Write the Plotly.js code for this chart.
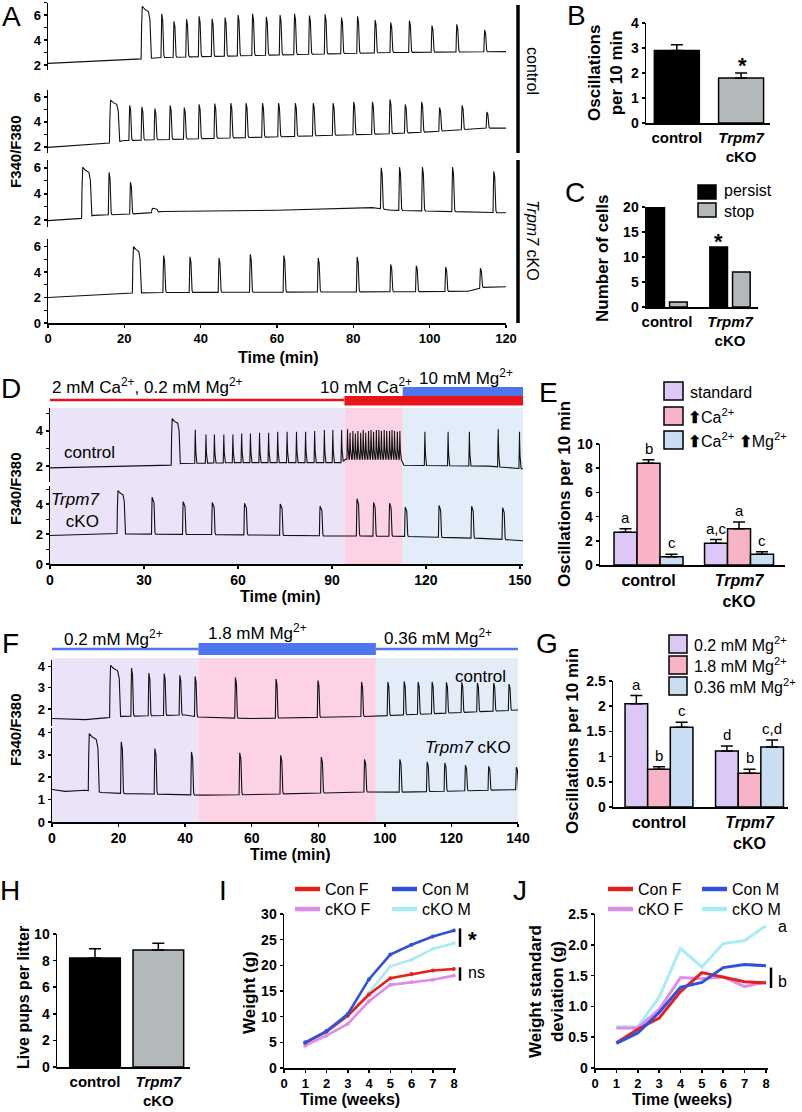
<!DOCTYPE html>
<html><head><meta charset="utf-8">
<script src="https://cdn.plot.ly/plotly-3.0.1.min.js"></script>
<style>html,body{margin:0;padding:0;background:#fff}</style>
</head><body><div id="chart" style="width:802px;height:1112px"></div>
<script>
// ================= DATA =================
// Panel A: Ca2+ traces (time, min; F340/F380). base = baseline knots [t, value]; T = spike onsets; P = spike peaks; Wd = plateau widths of leading spikes
const aTimeTicks = [0, 20, 40, 60, 80, 100, 120];
const aCtl1Base = [[0,2.13],[24,2.48],[30,2.6],[60,2.8],[90,3.0],[120,3.07]];
const aCtl1T = [24.4,29.6,32.8,36.1,39.4,42.8,46.2,49.6,53.4,57.0,60.6,64.4,68.3,72.4,76.7,80.9,85.5,89.6,94.5,100.4,106.9,114.2];
const aCtl1P = [6.7,6.1,5.5,5.65,5.9,5.7,5.8,6.0,6.1,5.85,6.0,6.1,5.95,6.05,5.8,5.9,5.6,5.4,5.55,5.15,5.25,4.8];
const aCtl1W = [2.0];
const aCtl2Base = [[0,1.95],[15,2.25],[20,2.5],[60,2.8],[90,3.05],[100,3.2],[108,3.35],[113,3.5],[120,3.5]];
const aCtl2T = [16.1,21.2,24.4,27.8,31.8,35.5,39.4,43.5,47.7,51.7,56.0,60.2,64.6,69.3,74.5,79.9,84.8,89.4,93.4,97.7,102.4,108.3,114.8];
const aCtl2P = [5.75,5.33,5.2,5.07,5.33,5.15,5.4,5.47,5.5,5.5,5.5,5.5,5.5,5.5,5.5,5.6,5.6,5.8,5.4,5.6,5.15,5.33,4.8];
const aCtl2W = [2.0];
const aKo1Base = [[0,1.95],[8.5,2.1],[12,2.35],[25,2.5],[30,2.65],[60,2.75],[85,2.95],[90,2.75],[120,2.55]];
const aKo1T = [8.8,15.8,21.4,27.1,87.1,91.9,97.9,105.8,116.6];
const aKo1P = [6.05,5.66,4.9,2.9,6.0,6.05,6.05,6.05,5.74];
const aKo1W = [2.0,0.25,0.25,1.2];
const aKo2Base = [[0,2.0],[22,2.35],[30,2.4],[60,2.42],[90,2.45],[110,2.5],[114,2.8],[120,2.85]];
const aKo2T = [22.1,30.1,37.0,44.6,52.8,61.6,70.6,80.8,89.6,96.3,104.0,113.1];
const aKo2P = [6.0,5.3,5.2,5.1,5.4,5.3,5.1,5.2,4.6,4.5,4.4,4.3];
const aKo2W = [1.7];

// Panel B
const bGroups = ['control', 'trpm7'];
const bGroupLabels = ['control', '<i>Trpm7</i><br>cKO'];
const bOsc = [2.9, 1.8];
const bErr = [0.23, 0.2];

// Panel C
const cPersist = [20, 12];
const cStop = [1, 7];

// Panel D
const dTimeTicks = [0, 30, 60, 90, 120, 150];
const dPhases = [[0, 94], [94, 112.6], [112.6, 151]];
const dCtlBase = [[0,1.9],[30,2.0],[38,2.04],[42,2.15],[60,2.2],[93,2.2],[94.5,2.4],[112,2.4],[113,2.05],[140,2.0],[151,1.85]];
const dCtlT = [38.7,46.2,49.6,52.3,55.3,58.2,61.0,63.8,66.7,69.6,72.5,75.5,78.5,81.4,84.3,87.4,90.1,92.9,
  94.8,95.6,96.5,97.3,98.1,99.0,99.8,100.6,101.5,102.3,103.1,104.0,104.8,105.6,106.5,107.3,108.2,109.0,109.8,110.7,111.5,
  119.5,126.9,133.7,142.9,149.7];
const dCtlP = [4.7,4.06,3.8,3.8,3.8,3.8,3.85,3.85,3.9,3.9,3.95,3.95,3.95,3.95,4.0,4.05,4.05,4.05,
  4.1,3.9,4.0,3.85,4.0,3.9,4.05,3.9,4.0,4.05,3.95,4.05,4.05,4.0,4.05,4.0,4.0,4.05,4.0,3.95,4.0,
  3.95,3.95,3.95,4.1,3.95];
const dCtlW = [2.2];
const dKoBase = [[0,1.9],[20,2.05],[25,2.0],[60,1.95],[90,1.87],[112,1.85],[120,1.8],[140,1.7],[151,1.55]];
const dKoT = [21.4,32.4,42.3,51.6,61.9,73.3,86.0,97.8,103.1,108.2,113.2,124.0,134.4,144.3];
const dKoP = [4.9,4.45,4.15,4.1,4.05,4.0,3.85,4.35,4.1,4.05,3.8,3.9,3.85,3.75];
const dKoW = [2.0,0.6,0.6,0.6,0.6,0.6,0.6,0.5,0.5,0.5,0.5,0.5,0.5,0.5];

// Panel E
const eStandard = [2.7, 1.8];   const eStandardErr = [0.3, 0.3];
const eCa = [8.4, 3.0];         const eCaErr = [0.3, 0.55];
const eCaMg = [0.68, 0.88];     const eCaMgErr = [0.2, 0.22];
const eLetters = [['a', 'a,c'], ['b', 'a'], ['c', 'c']];

// Panel F
const fTimeTicks = [0, 20, 40, 60, 80, 100, 120, 140];
const fPhases = [[0, 44], [44, 97.3], [97.3, 140]];
const fCtlBase = [[0,1.55],[10,1.5],[16,1.58],[21,1.65],[40,1.72],[44,1.62],[60,1.55],[95,1.65],[110,1.75],[140,1.95]];
const fCtlT = [17.3,23.7,28.9,33.5,38.2,42.8,54.9,67.1,79.7,92.8,100.7,105.6,109.8,114.0,118.3,122.9,127.6,132.5,137.1];
const fCtlP = [4.05,3.92,3.69,3.66,3.58,3.53,3.48,3.41,3.34,3.27,3.27,3.3,3.27,3.27,3.25,3.25,3.22,3.22,3.17];
const fCtlW = [2.6];
const fKoBase = [[0,1.45],[4,1.37],[10,1.42],[15,1.32],[22,1.27],[30,1.25],[45,1.2],[60,1.22],[93,1.34],[103,1.33],[120,1.38],[140,1.45]];
const fKoT = [10.9,20.6,30.7,41.7,56.2,68.5,80.7,93.7,104.3,112.5,117.8,124.0,131.0,139.3];
const fKoP = [3.95,3.58,3.28,3.13,3.09,2.98,2.9,2.8,2.8,2.69,2.64,2.54,2.49,2.45];
const fKoW = [2.6];

// Panel G
const gLow = [2.05, 1.11];   const gLowErr = [0.16, 0.1];
const gHigh = [0.75, 0.67];  const gHighErr = [0.05, 0.08];
const gMid = [1.58, 1.19];   const gMidErr = [0.1, 0.14];
const gLetters = [['a', 'd'], ['b', 'b'], ['c', 'c,d']];

// Panel H
const hPups = [8.2, 8.8];
const hErr = [0.7, 0.5];

// Panel I / J
const weeks = [1, 2, 3, 4, 5, 6, 7, 8];
const iConF = [4.9, 7.1, 10.2, 14.3, 17.5, 18.3, 19.0, 19.3];
const iConM = [5.0, 7.2, 10.5, 17.3, 22.1, 24.0, 25.6, 26.8];
const iKoF  = [4.35, 6.3, 8.6, 13.0, 16.2, 16.7, 17.2, 18.0];
const iKoM  = [4.7, 6.9, 10.3, 14.7, 19.8, 21.1, 23.2, 24.3];
const jConF = [0.41, 0.63, 0.81, 1.24, 1.55, 1.48, 1.40, 1.38];
const jConM = [0.40, 0.57, 0.90, 1.31, 1.39, 1.63, 1.68, 1.66];
const jKoF  = [0.65, 0.65, 0.95, 1.47, 1.45, 1.48, 1.32, 1.40];
const jKoM  = [0.67, 0.67, 1.15, 1.94, 1.64, 2.02, 2.07, 2.31];
const seriesNames = ['Con F', 'Con M', 'cKO F', 'cKO M'];

// ================= STYLE / HELPERS =================
const W = 802, H = 1112;
const FONT = 'Liberation Sans, Arial, Helvetica, sans-serif';
const px = v => v / W, py = v => 1 - v / H;
const xDom = (l, r) => [l / W, r / W];
const yDom = (t, b) => [1 - b / H, 1 - t / H];
const tf = (s) => ({family: FONT, size: s, color: '#000', weight: 'bold'});
const C_LAV = '#dcc7f7', C_PINK = '#f8b4c6', C_BLUE = '#c9def3', C_GREY = '#b3b9bb';
const S_LAV = '#ebe3f8', S_PINK = '#fcd2e4', S_BLUE = '#e3edf9';
const L_RED = '#e4211c', L_BLUE = '#3050de', L_VIO = '#dc8ce9', L_CYAN = '#a9ecf4';

function buildTrace(base, T, P, Wd, defW) {
  const xs = [], ys = [];
  const baseAt = t => {
    if (t <= base[0][0]) return base[0][1];
    for (let i = 1; i < base.length; i++) {
      if (t <= base[i][0]) {
        const [t0, v0] = base[i - 1], [t1, v1] = base[i];
        return v0 + (v1 - v0) * (t - t0) / (t1 - t0);
      }
    }
    return base[base.length - 1][1];
  };
  let k = 0;
  for (let i = 0; i < T.length; i++) {
    const t = T[i], p = P[i], w = (Wd[i] !== undefined) ? Wd[i] : defW;
    const end = t + w + 0.7;
    while (k < base.length && base[k][0] < t) { xs.push(base[k][0]); ys.push(base[k][1]); k++; }
    const b = baseAt(t), b2 = baseAt(end), h = p - b;
    const pts = w > 1 ? [
      [t, b], [t + 0.12, b + 0.6 * h], [t + 0.3, p], [t + 0.3 + 0.35 * w, p - 0.06 * h],
      [t + 0.3 + 0.8 * w, p - 0.1 * h], [t + 0.3 + w, p - 0.25 * h], [t + 0.45 + w, b2 + 0.25 * h],
      [t + 0.6 + w, b2 + 0.03 * h], [end, b2]
    ] : [
      [t, b], [t + 0.1, b + 0.6 * h], [t + 0.2, p], [t + 0.2 + w, p - 0.15 * h],
      [t + 0.35 + w, b2 + 0.35 * h], [t + 0.5 + w, b2 + 0.05 * h], [end, b2]
    ];
    pts.forEach(q => { xs.push(q[0]); ys.push(q[1]); });
    while (k < base.length && base[k][0] <= end) k++;
  }
  while (k < base.length) { xs.push(base[k][0]); ys.push(base[k][1]); k++; }
  return {x: xs, y: ys};
}
function lineTrace(d, xa, ya) {
  return {type: 'scatter', mode: 'lines', x: d.x, y: d.y, xaxis: xa, yaxis: ya,
    line: {color: '#111', width: 1.1}, hoverinfo: 'skip', showlegend: false};
}

const traces = [];
// A
traces.push(lineTrace(buildTrace(aCtl1Base, aCtl1T, aCtl1P, aCtl1W, 0.25), 'x', 'y'));
traces.push(lineTrace(buildTrace(aCtl2Base, aCtl2T, aCtl2P, aCtl2W, 0.25), 'x', 'y2'));
traces.push(lineTrace(buildTrace(aKo1Base, aKo1T, aKo1P, aKo1W, 0.25), 'x', 'y3'));
traces.push(lineTrace(buildTrace(aKo2Base, aKo2T, aKo2P, aKo2W, 0.25), 'x', 'y4'));
// D
traces.push(lineTrace(buildTrace(dCtlBase, dCtlT, dCtlP, dCtlW, 0.0), 'x4', 'y7'));
traces.push(lineTrace(buildTrace(dKoBase, dKoT, dKoP, dKoW, 0.5), 'x4', 'y8'));
// F
traces.push(lineTrace(buildTrace(fCtlBase, fCtlT, fCtlP, fCtlW, 0.3), 'x6', 'y10'));
traces.push(lineTrace(buildTrace(fKoBase, fKoT, fKoP, fKoW, 0.35), 'x6', 'y11'));

function barTrace(y, err, color, xa, ya, width, offset) {
  return {type: 'bar', x: bGroups, y: y, xaxis: xa, yaxis: ya, width: width, offset: offset,
    marker: {color: color, line: {color: '#000', width: 1.5}}, showlegend: false, hoverinfo: 'skip',
    error_y: err ? {type: 'data', symmetric: false, array: err, arrayminus: [0, 0], color: '#000', thickness: 1.5, width: 6} : undefined};
}
// B
traces.push(barTrace(bOsc, bErr, ['#000', C_GREY], 'x2', 'y5', 0.7, -0.35));
// C
traces.push(barTrace(cPersist, null, '#000', 'x3', 'y6', 0.28, -0.32));
traces.push(barTrace(cStop, null, C_GREY, 'x3', 'y6', 0.28, 0.04));
// E
const eW = 0.254, eOff = [-0.381, -0.127, 0.127];
traces.push(barTrace(eStandard, eStandardErr, C_LAV, 'x5', 'y9', eW, eOff[0]));
traces.push(barTrace(eCa, eCaErr, C_PINK, 'x5', 'y9', eW, eOff[1]));
traces.push(barTrace(eCaMg, eCaMgErr, C_BLUE, 'x5', 'y9', eW, eOff[2]));
// G
const gW = 0.25, gOff = [-0.375, -0.125, 0.125];
traces.push(barTrace(gLow, gLowErr, C_LAV, 'x7', 'y12', gW, gOff[0]));
traces.push(barTrace(gHigh, gHighErr, C_PINK, 'x7', 'y12', gW, gOff[1]));
traces.push(barTrace(gMid, gMidErr, C_BLUE, 'x7', 'y12', gW, gOff[2]));
// H
traces.push(barTrace(hPups, hErr, ['#000', C_GREY], 'x8', 'y13', 0.8, -0.4));
// I
[[iKoM, L_CYAN], [iKoF, L_VIO], [iConF, L_RED], [iConM, L_BLUE]].forEach(([d, c]) => {
  traces.push({type: 'scatter', mode: 'lines+markers', x: weeks, y: d, xaxis: 'x9', yaxis: 'y14',
    line: {color: c, width: 2.6}, marker: {color: c, size: 4}, showlegend: false, hoverinfo: 'skip'});
});
// J
[[jKoM, L_CYAN], [jKoF, L_VIO], [jConF, L_RED], [jConM, L_BLUE]].forEach(([d, c]) => {
  traces.push({type: 'scatter', mode: 'lines', x: weeks, y: d, xaxis: 'x10', yaxis: 'y15',
    line: {color: c, width: 3}, showlegend: false, hoverinfo: 'skip'});
});

// ================= AXES =================
const axBase = {showline: true, linecolor: '#000', linewidth: 1.5, showgrid: false, zeroline: false,
  ticks: 'outside', ticklen: 3, tickwidth: 1.5, tickcolor: '#000', fixedrange: true};
const minorT = {ticks: 'outside', ticklen: 2.5, tickwidth: 1, tickcolor: '#000', showgrid: false};
const layout = {
  width: W, height: H, margin: {l: 0, r: 0, t: 0, b: 0}, paper_bgcolor: '#fff', plot_bgcolor: 'rgba(0,0,0,0)',
  font: {family: FONT, color: '#000'}, showlegend: false, barmode: 'overlay',
  // A
  xaxis: Object.assign({}, axBase, {domain: xDom(48, 506), anchor: 'y4', range: [0, 120], tickvals: aTimeTicks, tickfont: tf(13)}),
  yaxis: Object.assign({}, axBase, {domain: yDom(2.5, 70), anchor: 'x', range: [1.6, 7.0], tick0: 0, dtick: 2, minor: Object.assign({dtick: 1}, minorT), tickfont: tf(13)}),
  yaxis2: Object.assign({}, axBase, {domain: yDom(89.5, 153), anchor: 'x', range: [1.5, 6.6], tick0: 0, dtick: 2, minor: Object.assign({dtick: 1}, minorT), tickfont: tf(13)}),
  yaxis3: Object.assign({}, axBase, {domain: yDom(160, 226.5), anchor: 'x', range: [1.5, 6.6], tick0: 0, dtick: 2, minor: Object.assign({dtick: 1}, minorT), tickfont: tf(13)}),
  yaxis4: Object.assign({}, axBase, {domain: yDom(239, 323), anchor: 'x', range: [0, 6.6], tick0: 0, dtick: 2, minor: Object.assign({dtick: 1}, minorT), tickfont: tf(13)}),
  // B
  xaxis2: Object.assign({}, axBase, {domain: xDom(646, 770), anchor: 'y5', type: 'category', range: [-0.48, 1.45], ticks: '', tickvals: bGroups, ticktext: bGroupLabels, tickfont: tf(15)}),
  yaxis5: Object.assign({}, axBase, {domain: yDom(23, 123), anchor: 'x2', range: [0, 4], dtick: 1, tickfont: tf(14)}),
  // C
  xaxis3: Object.assign({}, axBase, {domain: xDom(646, 758), anchor: 'y6', type: 'category', range: [-0.333, 1.444], ticks: '', tickvals: bGroups, ticktext: bGroupLabels, tickfont: tf(15)}),
  yaxis6: Object.assign({}, axBase, {domain: yDom(207, 307), anchor: 'x3', range: [0, 20], dtick: 5, tickfont: tf(14)}),
  // D
  xaxis4: Object.assign({}, axBase, {domain: xDom(50, 523), anchor: 'y8', range: [0, 151], tickvals: dTimeTicks, tickfont: tf(14)}),
  yaxis7: Object.assign({}, axBase, {domain: yDom(408, 482), anchor: 'x4', range: [1.1, 5.3], tick0: 0, dtick: 2, minor: Object.assign({dtick: 1}, minorT), tickfont: tf(13)}),
  yaxis8: Object.assign({}, axBase, {domain: yDom(486, 564), anchor: 'x4', range: [0, 5.2], tick0: 0, dtick: 2, minor: Object.assign({dtick: 1}, minorT), tickfont: tf(13)}),
  // E
  xaxis5: Object.assign({}, axBase, {domain: xDom(600, 785), anchor: 'y9', type: 'category', range: [-0.536, 1.508], ticks: '', tickvals: bGroups, ticktext: bGroupLabels, tickfont: tf(16)}),
  yaxis9: Object.assign({}, axBase, {domain: yDom(444, 565), anchor: 'x5', range: [0, 10], dtick: 2, tickfont: tf(14)}),
  // F
  xaxis6: Object.assign({}, axBase, {domain: xDom(52, 518), anchor: 'y11', range: [0, 140], tickvals: fTimeTicks, tickfont: tf(14)}),
  yaxis10: Object.assign({}, axBase, {domain: yDom(660, 726), anchor: 'x6', range: [1.2, 4.3], dtick: 1, tickfont: tf(13)}),
  yaxis11: Object.assign({}, axBase, {domain: yDom(728, 822), anchor: 'x6', range: [0, 4.2], dtick: 1, tickfont: tf(13)}),
  // G
  xaxis7: Object.assign({}, axBase, {domain: xDom(613, 788), anchor: 'y12', type: 'category', range: [-0.508, 1.425], ticks: '', tickvals: bGroups, ticktext: bGroupLabels, tickfont: tf(16)}),
  yaxis12: Object.assign({}, axBase, {domain: yDom(681, 807), anchor: 'x7', range: [0, 2.5], tickvals: [0, 0.5, 1, 1.5, 2, 2.5], ticktext: ['0', '0.5', '1', '1.5', '2', '2.5'], tickfont: tf(14)}),
  // H
  xaxis8: Object.assign({}, axBase, {domain: xDom(57, 190), anchor: 'y13', type: 'category', range: [-0.6, 1.5], ticks: '', tickvals: bGroups, ticktext: bGroupLabels, tickfont: tf(15)}),
  yaxis13: Object.assign({}, axBase, {domain: yDom(934, 1067), anchor: 'x8', range: [0, 10], dtick: 2, tickfont: tf(14)}),
  // I
  xaxis9: Object.assign({}, axBase, {domain: xDom(284, 455.7), anchor: 'y14', range: [0, 8.08], dtick: 1, tick0: 0, tickfont: tf(13)}),
  yaxis14: Object.assign({}, axBase, {domain: yDom(914, 1068), anchor: 'x9', range: [0, 30], dtick: 5, tickfont: tf(14)}),
  // J
  xaxis10: Object.assign({}, axBase, {domain: xDom(595, 767.7), anchor: 'y15', range: [0, 8.08], dtick: 1, tick0: 0, tickfont: tf(13)}),
  yaxis15: Object.assign({}, axBase, {domain: yDom(914, 1068), anchor: 'x10', range: [0, 2.5], tickvals: [0, 0.5, 1, 1.5, 2, 2.5], ticktext: ['0', '0.5', '1.0', '1.5', '2.0', '2.5'], tickfont: tf(14)}),
  shapes: [], annotations: []
};

// ================= SHAPES =================
const S = layout.shapes, A = layout.annotations;
const rectPx = (x0, y0, x1, y1, fill, line) => S.push({type: 'rect', xref: 'paper', yref: 'paper', x0: px(x0), x1: px(x1), y0: py(y1), y1: py(y0),
  fillcolor: fill, line: line ? {color: '#000', width: 1.5} : {width: 0}, layer: 'above'});
const linePx = (x0, y0, x1, y1, color, w) => S.push({type: 'line', xref: 'paper', yref: 'paper', x0: px(x0), x1: px(x1), y0: py(y0), y1: py(y1),
  line: {color: color, width: w}, layer: 'above'});
// shading D / F phases
[S_LAV, S_PINK, S_BLUE].forEach((c, i) => {
  S.push({type: 'rect', xref: 'x4', yref: 'paper', x0: dPhases[i][0], x1: dPhases[i][1], y0: py(564), y1: py(408), fillcolor: c, line: {width: 0}, layer: 'below'});
  S.push({type: 'rect', xref: 'x6', yref: 'paper', x0: fPhases[i][0], x1: fPhases[i][1], y0: py(822), y1: py(658), fillcolor: c, line: {width: 0}, layer: 'below'});
});
// D header bars
S.push({type: 'line', xref: 'x4', yref: 'paper', x0: dPhases[0][0], x1: dPhases[0][1], y0: py(400), y1: py(400), line: {color: '#e8141b', width: 2.5}});
S.push({type: 'rect', xref: 'x4', yref: 'paper', x0: dPhases[1][0], x1: dPhases[2][1], y0: py(405.5), y1: py(396), fillcolor: '#e8141b', line: {width: 0}});
S.push({type: 'rect', xref: 'x4', yref: 'paper', x0: dPhases[2][0], x1: dPhases[2][1], y0: py(396), y1: py(387), fillcolor: '#4e76f0', line: {width: 0}});
// F header bars
S.push({type: 'line', xref: 'x6', yref: 'paper', x0: fPhases[0][0], x1: fPhases[0][1], y0: py(649), y1: py(649), line: {color: '#4e76f0', width: 2.5}});
S.push({type: 'rect', xref: 'x6', yref: 'paper', x0: fPhases[1][0], x1: fPhases[1][1], y0: py(655), y1: py(643), fillcolor: '#4e76f0', line: {width: 0}});
S.push({type: 'line', xref: 'x6', yref: 'paper', x0: fPhases[2][0], x1: fPhases[2][1], y0: py(649), y1: py(649), line: {color: '#4e76f0', width: 2.5}});
// A group bars
linePx(518, 5, 518, 153, '#000', 3.5);
linePx(518, 160, 518, 323, '#000', 3.5);
// C legend
rectPx(698, 185, 716, 199, '#000', true);
rectPx(698, 203, 716, 217, C_GREY, true);
// E legend
rectPx(664, 382, 683, 400, C_LAV, true);
rectPx(664, 407, 683, 425, C_PINK, true);
rectPx(664, 431, 683, 449, C_BLUE, true);
// G legend
rectPx(669, 635, 687, 653, C_LAV, true);
rectPx(669, 656, 687, 674, C_PINK, true);
rectPx(669, 677, 687, 695, C_BLUE, true);
// I / J legends
const legCols = [L_RED, L_BLUE, L_VIO, L_CYAN];
const legPos = [[0, 889], [1, 889], [0, 909], [1, 909]];
[[295, 392], [608, 702]].forEach(([c0, c1]) => {
  legPos.forEach(([col, y], i) => {
    const x0 = col ? c1 : c0;
    linePx(x0, y, x0 + 25, y, legCols[i], 4.5);
    A.push({text: seriesNames[i], x: px(x0 + 28), y: py(y), xref: 'paper', yref: 'paper', showarrow: false,
      xanchor: 'left', yanchor: 'middle', font: {family: FONT, size: 16, color: '#000'}});
  });
});
// I significance bars
S.push({type: 'line', xref: 'paper', yref: 'y14', x0: px(460), x1: px(460), y0: 23.6, y1: 27.2, line: {color: '#000', width: 2.5}});
S.push({type: 'line', xref: 'paper', yref: 'y14', x0: px(460), x1: px(460), y0: 17.0, y1: 19.6, line: {color: '#000', width: 2.5}});
// J significance bar
S.push({type: 'line', xref: 'paper', yref: 'y15', x0: px(771), x1: px(771), y0: 1.30, y1: 1.63, line: {color: '#000', width: 2.5}});

// ================= ANNOTATIONS =================
const T = (text, x, y, size, opts) => A.push(Object.assign({text: text, x: px(x), y: py(y), xref: 'paper', yref: 'paper', showarrow: false,
  xanchor: 'center', yanchor: 'middle', font: {family: FONT, size: size, color: '#000'}}, opts || {}));
const TB = (text, x, y, size, opts) => T(text, x, y, size, Object.assign({font: {family: FONT, size: size, color: '#000', weight: 'bold'}}, opts || {}));
// panel letters
[['A', 11, 16], ['B', 576, 15], ['C', 575, 192], ['D', 11, 389], ['E', 548, 392], ['F', 10, 643], ['G', 547, 643], ['H', 10, 890], ['I', 223, 890], ['J', 520, 890]]
  .forEach(([l, x, y]) => T(l, x, y, 28));
// A
TB('F340/F380', 15, 152, 15, {textangle: -90});
TB('Time (min)', 278, 357, 16);
T('control', 533, 71, 16, {textangle: 90});
T('<i>Trpm7</i> cKO', 533, 240, 16, {textangle: 90});
// B
TB('Oscillations<br>per 10 min', 605, 73, 17, {textangle: -90});
TB('*', 742, 66, 22);
// C
TB('Number of cells', 602, 258, 17, {textangle: -90});
TB('*', 718, 242, 22);
T('persist', 722, 191, 16, {xanchor: 'left'});
T('stop', 722, 211, 16, {xanchor: 'left'});
// D
T('2 mM Ca<sup>2+</sup>, 0.2 mM Mg<sup>2+</sup>', 50, 386, 17, {xanchor: 'left'});
T('10 mM Ca<sup>2+</sup>', 318, 386, 17, {xanchor: 'left'});
T('10 mM Mg<sup>2+</sup>', 417, 377, 17, {xanchor: 'left'});
T('control', 62, 452, 17, {xanchor: 'left'});
T('<i>Trpm7</i><br>cKO', 101, 510, 17, {xanchor: 'right', align: 'right'});
TB('F340/F380', 15, 489, 15, {textangle: -90});
TB('Time (min)', 280, 596, 16);
// E
T('standard', 688, 392, 16, {xanchor: 'left'});
T('<b>⬆</b>Ca<sup>2+</sup>', 686, 416, 16, {xanchor: 'left'});
T('<b>⬆</b>Ca<sup>2+</sup> <b>⬆</b>Mg<sup>2+</sup>', 686, 440, 16, {xanchor: 'left'});
TB('Oscillations per 10 min', 564, 494, 17, {textangle: -90});
const letterAnn = (vals, errs, letters, off, w, xa, ya) => vals.forEach((v, j) => A.push({
  text: letters[j], xref: xa, yref: ya, x: j + off + w / 2, y: v + errs[j], yanchor: 'bottom', xanchor: 'center',
  showarrow: false, yshift: 1, font: {family: FONT, size: 15, color: '#000'}}));
letterAnn(eStandard, eStandardErr, eLetters[0], eOff[0], eW, 'x5', 'y9');
letterAnn(eCa, eCaErr, eLetters[1], eOff[1], eW, 'x5', 'y9');
letterAnn(eCaMg, eCaMgErr, eLetters[2], eOff[2], eW, 'x5', 'y9');
// F
T('0.2 mM Mg<sup>2+</sup>', 62, 638, 17, {xanchor: 'left'});
T('1.8 mM Mg<sup>2+</sup>', 206, 632, 17, {xanchor: 'left'});
T('0.36 mM Mg<sup>2+</sup>', 382, 637, 17, {xanchor: 'left'});
T('control', 508, 676, 17, {xanchor: 'right'});
T('<i>Trpm7</i> cKO', 423, 747, 17, {xanchor: 'left'});
TB('F340/F380', 15, 730, 15, {textangle: -90});
TB('Time (min)', 290, 854, 16);
// G
T('0.2 mM Mg<sup>2+</sup>', 692, 644, 16, {xanchor: 'left'});
T('1.8 mM Mg<sup>2+</sup>', 692, 665, 16, {xanchor: 'left'});
T('0.36 mM Mg<sup>2+</sup>', 692, 686, 16, {xanchor: 'left'});
TB('Oscillations per 10 min', 572, 741, 17, {textangle: -90});
letterAnn(gLow, gLowErr, gLetters[0], gOff[0], gW, 'x7', 'y12');
letterAnn(gHigh, gHighErr, gLetters[1], gOff[1], gW, 'x7', 'y12');
letterAnn(gMid, gMidErr, gLetters[2], gOff[2], gW, 'x7', 'y12');
// H
TB('Live pups per litter', 23, 998, 16, {textangle: -90});
// I
TB('Weight (g)', 249, 992, 17, {textangle: -90});
TB('Time (weeks)', 350, 1099, 16);
TB('*', 472, 939, 22);
T('ns', 466, 972, 16, {xanchor: 'left'});
// J
TB('Weight standard<br>deviation (g)', 546, 992, 17, {textangle: -90});
TB('Time (weeks)', 682, 1099, 16);
T('a', 776, 926, 16, {xanchor: 'left'});
T('b', 776, 981, 16, {xanchor: 'left'});

Plotly.newPlot('chart', traces, layout, {staticPlot: true, displayModeBar: false});
</script></body></html>
